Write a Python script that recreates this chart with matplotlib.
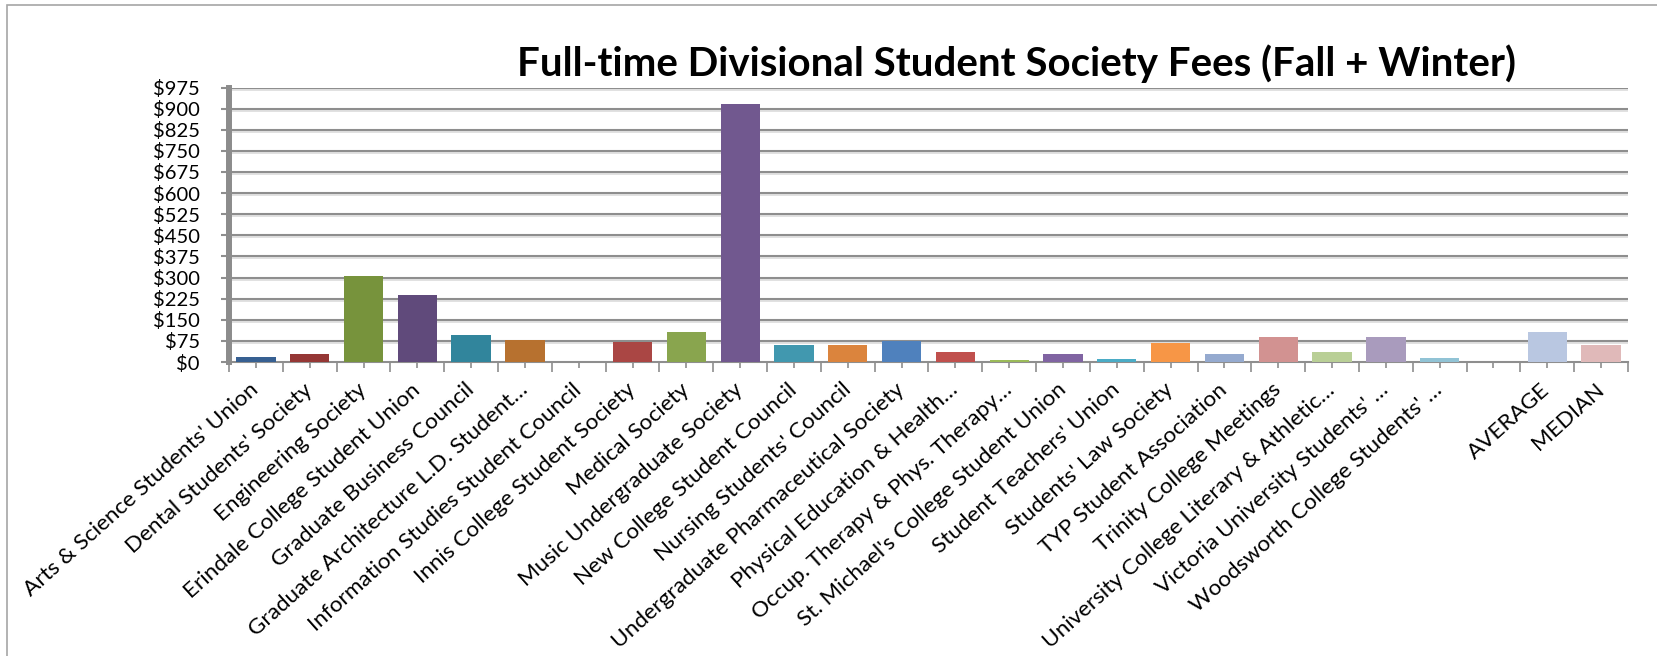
import matplotlib
matplotlib.use("Agg")
import matplotlib.pyplot as plt
from matplotlib.patches import Rectangle
from matplotlib.transforms import offset_copy
import numpy as np

plt.rcParams['font.family'] = ['Lato', 'DejaVu Sans']

# Society names as shown on the axis (Excel truncates long ones)
societies = [
    "Arts & Science Students' Union",
    "Dental Students' Society",
    "Engineering Society",
    "Erindale College Student Union",
    "Graduate Business Council",
    "Graduate Architecture L.D. Student\u2026",
    "Information Studies Student Council",
    "Innis College Student Society",
    "Medical Society",
    "Music Undergraduate Society",
    "New College Student Council",
    "Nursing Students' Council",
    "Undergraduate Pharmaceutical Society",
    "Physical Education & Health\u2026",
    "Occup. Therapy & Phys. Therapy\u2026",
    "St. Michael's College Student Union",
    "Student Teachers' Union",
    "Students' Law Society",
    "TYP Student Association",
    "Trinity College Meetings",
    "University College Literary & Athletic\u2026",
    "Victoria University Students' \u2026",
    "Woodsworth College Students' \u2026",
    "",
    "AVERAGE",
    "MEDIAN",
]

# fees in dollars (blank slot before AVERAGE)
fees = [18, 29, 305, 238, 96, 78, 0, 72, 107, 916, 60, 60, 73, 36, 7,
        29, 11, 68, 29, 89, 36, 89, 14, 0, 107, 60]

# Excel "vary colors by point" palette
bar_colors = ['#376092', '#953735', '#77933C', '#604A7B', '#31859C', '#B7712F',
              '#4A7EBB', '#AA4644', '#89A54E', '#71588F', '#4198AF', '#DB843D',
              '#4F81BD', '#C0504D', '#9BBB59', '#8064A2', '#4BACC6', '#F79646',
              '#95AACF', '#D29291', '#B9CF96', '#A99BBD', '#91C3D5', '#FAC090',
              '#B9C7E1', '#E0B9B9']

y_ticks = list(range(0, 976, 75))

fig = plt.figure(figsize=(16.58, 6.56), dpi=100)
ax = fig.add_axes([229 / 1658, 1 - 362 / 656, (1628 - 229) / 1658, (362 - 87.5) / 656])

x = np.arange(len(societies))
ax.bar(x, fees, width=0.73, color=bar_colors, linewidth=0, zorder=3)

ax.set_xlim(-0.5, len(societies) - 0.5)
ax.set_ylim(0, 975)

# gridlines with a light shadow underneath, like the Excel style
grid_col = '#8e8e8e'
shadow = offset_copy(ax.get_yaxis_transform(), fig=fig, y=-2, units='dots')
for v in y_ticks[1:]:
    ax.plot([0, 1], [v, v], color='#dedede', lw=1.3, zorder=1, transform=shadow)
    ax.axhline(v, color=grid_col, lw=1.5, zorder=2)

ax.set_yticks(y_ticks)
ax.set_yticklabels([f"${v}" for v in y_ticks])
ax.tick_params(axis='y', length=6, width=1.5, color=grid_col, pad=15, labelsize=14.5)

# labels sit on the centre ticks, long ticks at the category boundaries
ax.set_xticks(x)
ax.set_xticklabels(societies, rotation=42, ha='right', va='center',
                   rotation_mode='anchor', fontsize=16.2)
ax.set_xticks(np.arange(-0.5, len(societies)), minor=True)
ax.tick_params(axis='x', which='major', length=4, width=1.2, color=grid_col, pad=14)
ax.tick_params(axis='x', which='minor', length=7, width=1.2, color=grid_col)

for side in ['top', 'right']:
    ax.spines[side].set_visible(False)
ax.spines['left'].set_color('#8c8c8c')
ax.spines['left'].set_linewidth(4.3)
ax.spines['left'].set_zorder(5)
ax.spines['bottom'].set_color(grid_col)
ax.spines['bottom'].set_linewidth(1.5)

fig.text(1017 / 1658, 1 - 76 / 656, "Full-time Divisional Student Society Fees (Fall + Winter)",
         ha='center', va='baseline', fontsize=29, fontweight='bold')

# chart area border (runs off the right and bottom edges)
fig.patches.append(Rectangle((7 / 1658, -0.1), 1.2, 1 - 5 / 656 + 0.1, transform=fig.transFigure,
                             fill=False, edgecolor='#a6a6a6', lw=1.2))

fig.savefig("out.png", dpi=100)
